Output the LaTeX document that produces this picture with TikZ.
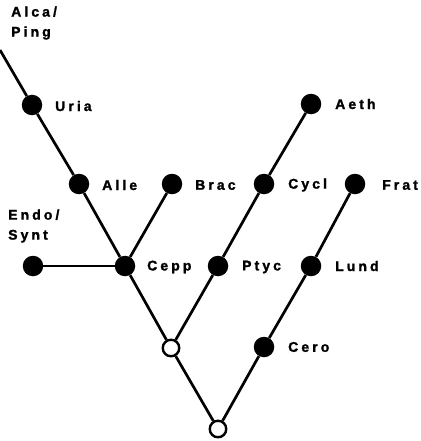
\documentclass[tikz,border=0pt]{standalone}
\usepackage{fontspec}
\newfontfamily\lblfont{Liberation Sans Bold}[LetterSpace=22,FakeBold=1.6]
\begin{document}
\begin{tikzpicture}[x=1pt,y=-1pt,
  taxon/.style={circle,fill=black,inner sep=0pt,minimum size=20.5pt},
  anc/.style={circle,draw=black,fill=white,line width=2.4pt,inner sep=0pt,minimum size=16.5pt},
  taxname/.style={anchor=west,inner sep=0pt,align=left,
    font=\lblfont\fontsize{14}{20}\selectfont},
  branch/.style={line width=2.7pt}]
\useasboundingbox (0,0) rectangle (420,441);

% terminal taxa
\node[taxon] (uria) at (32,105) {};
\node[taxon] (alle) at (79,184) {};
\node[taxon] (brac) at (172,184) {};
\node[taxon] (cycl) at (264,184) {};
\node[taxon] (frat) at (355,184) {};
\node[taxon] (aeth) at (311,104) {};
\node[taxon] (endo) at (33,266) {};
\node[taxon] (cepp) at (125,266) {};
\node[taxon] (ptyc) at (218,266) {};
\node[taxon] (lund) at (311,266) {};
\node[taxon] (cero) at (264,347) {};
% hypothetical ancestors
\node[anc] (n1) at (171,348) {};
\node[anc] (n2) at (218,429) {};
\coordinate (top) at (0,50);

% branches
\draw[branch] (top) -- (uria) -- (alle) -- (cepp) -- (n1) -- (n2);
\draw[branch] (endo) -- (cepp);
\draw[branch] (brac) -- (cepp);
\draw[branch] (aeth) -- (cycl) -- (ptyc) -- (n1);
\draw[branch] (frat) -- (lund) -- (cero) -- (n2);

% names
\node[taxname] (tAlca) at (11,23) {Alca/\\Ping};
\node[taxname] (tUria) at (55,106) {Uria};
\node[taxname] (tAlle) at (102,185) {Alle};
\node[taxname] (tBrac) at (195,185) {Brac};
\node[taxname] (tCycl) at (288,185) {Cycl};
\node[taxname] (tFrat) at (382,185) {Frat};
\node[taxname] (tAeth) at (335,104) {Aeth};
\node[taxname] (tEndo) at (8,226) {Endo/\\Synt};
\node[taxname] (tCepp) at (147,267) {Cepp};
\node[taxname] (tPtyc) at (242,267) {Ptyc};
\node[taxname] (tLund) at (335,266) {Lund};
\node[taxname] (tCero) at (288,347) {Cero};
\end{tikzpicture}
\end{document}
